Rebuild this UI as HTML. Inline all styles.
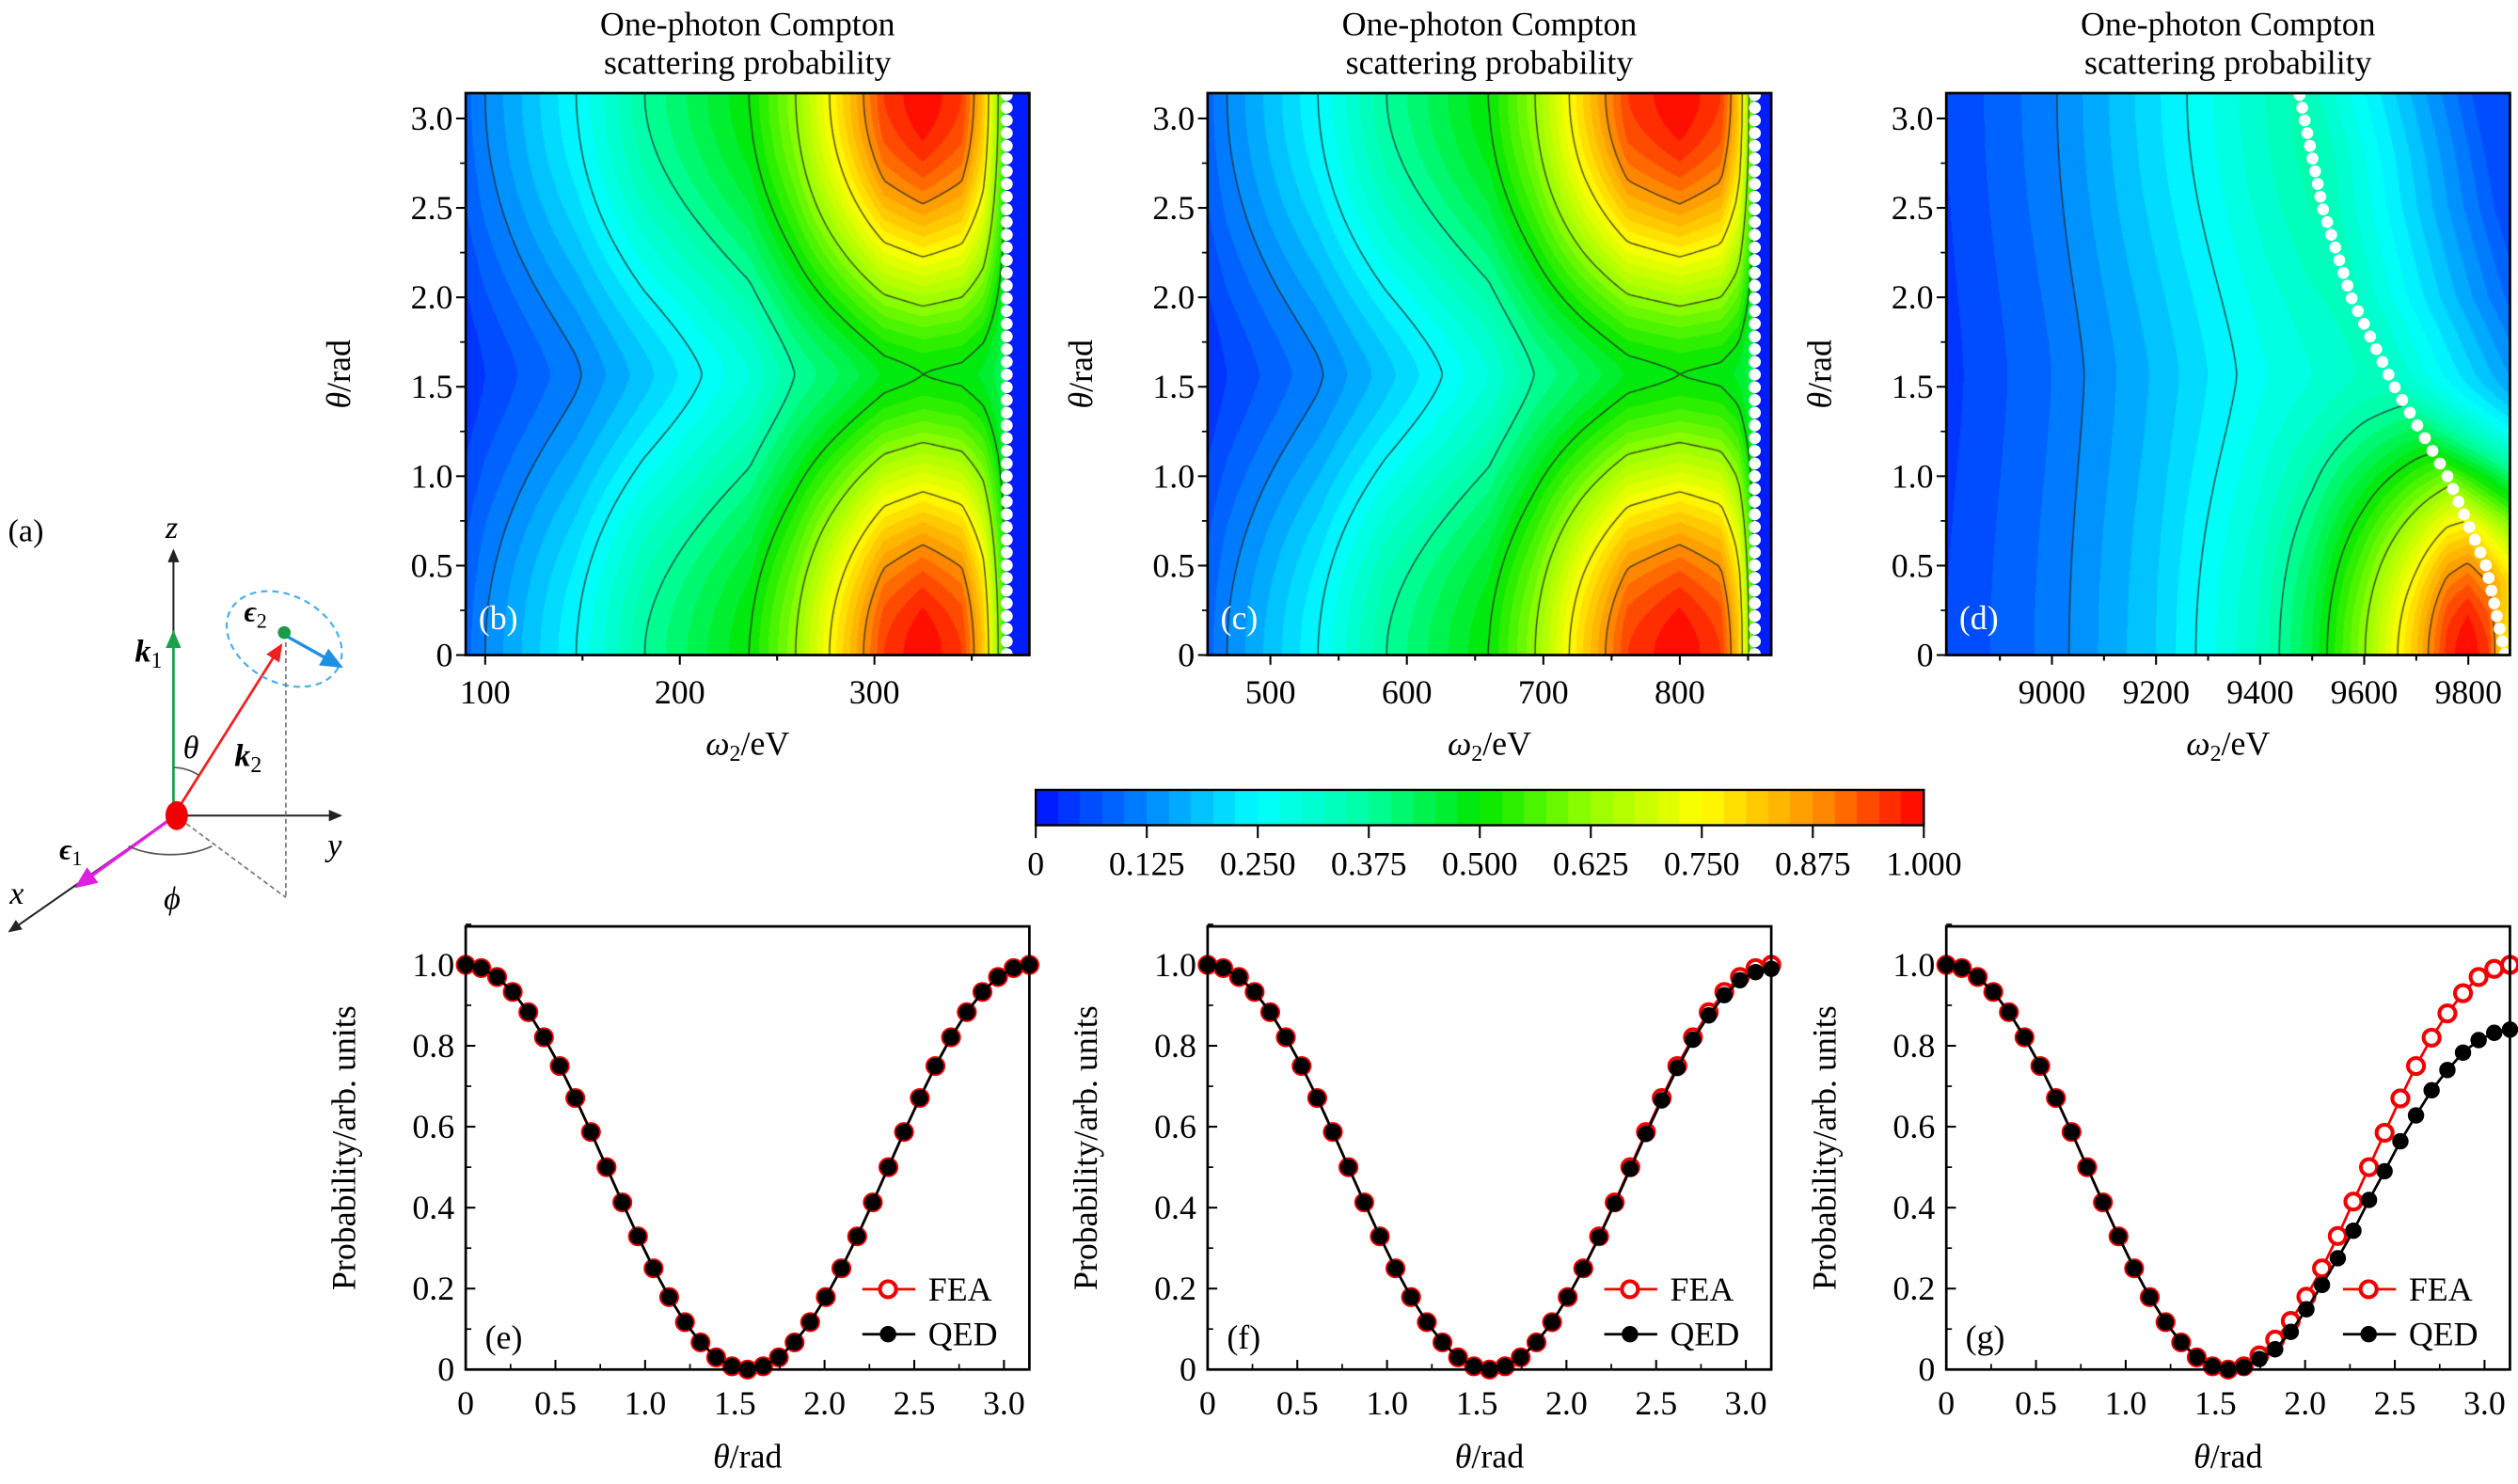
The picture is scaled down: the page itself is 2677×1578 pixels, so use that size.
<!DOCTYPE html>
<html><head><meta charset="utf-8">
<style>
html,body{margin:0;padding:0;background:#fff;}
#root{position:relative;width:2677px;height:1578px;overflow:hidden;background:#fff;}
canvas{position:absolute;}
svg{position:absolute;left:0;top:0;}
text{font-family:"Liberation Serif",serif;fill:#000;}
</style></head>
<body>
<div id="root">
<canvas id="cb"></canvas>
<canvas id="cc"></canvas>
<canvas id="cd"></canvas>
<canvas id="ccbar"></canvas>
<svg id="svg" width="2677" height="1578" viewBox="0 0 1568 924.3">
<g id="diagram">
 <defs>
  <marker id="ah" markerWidth="8" markerHeight="8" refX="6" refY="3" orient="auto"><path d="M0,0 L7,3 L0,6 z" fill="#222"/></marker>
  <marker id="ahg" markerWidth="8" markerHeight="8" refX="6" refY="3" orient="auto"><path d="M0,0 L7,3 L0,6 z" fill="#1aa24a"/></marker>
  <marker id="ahr" markerWidth="8" markerHeight="8" refX="6" refY="3" orient="auto"><path d="M0,0 L7,3 L0,6 z" fill="#f02020"/></marker>
  <marker id="ahb" markerWidth="8" markerHeight="8" refX="6" refY="3" orient="auto"><path d="M0,0 L7,3 L0,6 z" fill="#1e90e0"/></marker>
  <marker id="ahm" markerWidth="8" markerHeight="8" refX="6" refY="3" orient="auto"><path d="M0,0 L7,3 L0,6 z" fill="#e020e0"/></marker>
 </defs>
 <text x="5" y="337" font-size="20">(a)</text>
 <line x1="108" y1="508" x2="108" y2="343" stroke="#222" stroke-width="1.2" marker-end="url(#ah)"/>
 <line x1="110" y1="508" x2="212" y2="508" stroke="#222" stroke-width="1.2" marker-end="url(#ah)"/>
 <line x1="105" y1="511" x2="6" y2="580" stroke="#222" stroke-width="1.2" marker-end="url(#ah)"/>
 <line x1="105" y1="511" x2="48" y2="552" stroke="#e020e0" stroke-width="2" marker-end="url(#ahm)"/>
 <line x1="108" y1="505" x2="108" y2="394" stroke="#1aa24a" stroke-width="1.6" marker-end="url(#ahg)"/>
 <line x1="112" y1="502" x2="175" y2="402" stroke="#f02020" stroke-width="1.6" marker-end="url(#ahr)"/>
 <ellipse cx="177" cy="398" rx="38" ry="27" transform="rotate(28 177 398)" fill="none" stroke="#4ab0e8" stroke-width="1.3" stroke-dasharray="4,3"/>
 <line x1="178" y1="396" x2="212" y2="415" stroke="#1e90e0" stroke-width="2" marker-end="url(#ahb)"/>
 <circle cx="177" cy="394" r="4" fill="#1a9a4a"/>
 <line x1="178" y1="400" x2="178" y2="559" stroke="#777" stroke-width="1" stroke-dasharray="3,2"/>
 <line x1="112" y1="510" x2="178" y2="559" stroke="#777" stroke-width="1" stroke-dasharray="3,2"/>
 <path d="M108,478 A30,30 0 0 1 124,483" fill="none" stroke="#555" stroke-width="1"/>
 <path d="M80,527 A40,22 0 0 0 132,527" fill="none" stroke="#555" stroke-width="1"/>
 <ellipse cx="110" cy="508" rx="7" ry="9" fill="#f00000"/>
 <text x="103" y="335" font-size="20" font-style="italic">z</text>
 <text x="84" y="412" font-size="20" font-weight="bold" font-style="italic">k<tspan font-size="14" font-weight="normal" font-style="normal" dy="4">1</tspan></text>
 <text x="114" y="472" font-size="20" font-style="italic">θ</text>
 <text x="146" y="477" font-size="20" font-weight="bold" font-style="italic">k<tspan font-size="14" font-weight="normal" font-style="normal" dy="4">2</tspan></text>
 <text x="152" y="387" font-size="18" font-weight="bold" font-style="italic">ϵ<tspan font-size="13" font-weight="normal" font-style="normal" dy="4">2</tspan></text>
 <text x="204" y="533" font-size="20" font-style="italic">y</text>
 <text x="37" y="535" font-size="18" font-weight="bold" font-style="italic">ϵ<tspan font-size="13" font-weight="normal" font-style="normal" dy="4">1</tspan></text>
 <text x="6" y="563" font-size="20" font-style="italic">x</text>
 <text x="102" y="566" font-size="20" font-style="italic">ϕ</text>
</g>
</svg>
</div>
<script>
// ---------- DATA ----------
const omegaB = [90,100,147,182,236,259,284,305,325,345,356,364,368];
const probB_theta0 = [0.09,0.125,0.25,0.375,0.5,0.62,0.8,0.95,1.0,0.95,0.82,0.62,0.5];
const probB_thetaMid = [0.03,0.05,0.12,0.19,0.3,0.375,0.43,0.48,0.5,0.49,0.47,0.44,0.42];
const cutoffB_theta = [0,3.1416];
const cutoffB_omega = [368,368];

const omegaC = [454,468,535,585,660,693,729,762,800,830,843,851,855];
const probC_theta0 = [0.09,0.125,0.25,0.375,0.5,0.62,0.8,0.95,1.0,0.95,0.82,0.62,0.5];
const probC_thetaMid = [0.03,0.05,0.12,0.19,0.3,0.375,0.43,0.48,0.5,0.49,0.47,0.44,0.42];
const cutoffC_theta = [0,3.1416];
const cutoffC_omega = [855,855];

const omegaD = [8797,9000,9200,9400,9500,9600,9700,9760,9800,9840,9871];
const probD_theta0 = [0.05,0.11,0.2,0.33,0.45,0.62,0.82,0.96,1.0,0.95,0.75];
const probD_thetaMid = [0.04,0.1,0.18,0.27,0.3,0.33,0.34,0.32,0.3,0.26,0.22];
const probD_thetaPi = [0.05,0.12,0.22,0.32,0.37,0.38,0.38,0.37,0.35,0.3,0.25];
const cutoffD_theta = [0,0.5,1.0,1.5,2.0,2.5,3.1416];
const cutoffD_omega = [9871,9834,9760,9658,9575,9520,9475];

const contourLevels = [0.125,0.25,0.375,0.5,0.625,0.75,0.875];
const colorbarTicks = ["0","0.125","0.250","0.375","0.500","0.625","0.750","0.875","1.000"];

const thetaPts = [0,0.087,0.175,0.262,0.349,0.436,0.524,0.611,0.698,0.785,0.873,0.960,1.047,1.134,1.222,1.309,1.396,1.484,1.571,1.658,1.745,1.833,1.920,2.007,2.094,2.182,2.269,2.356,2.443,2.531,2.618,2.705,2.793,2.880,2.967,3.054,3.142];
const feaE = [1,.992,.970,.933,.883,.821,.750,.671,.587,.500,.413,.329,.250,.179,.117,.067,.030,.008,0,.008,.030,.067,.117,.179,.250,.329,.413,.500,.587,.671,.750,.821,.883,.933,.970,.992,1];
const qedE = [1,.992,.970,.933,.883,.821,.750,.671,.587,.500,.413,.329,.250,.179,.117,.067,.030,.008,0,.008,.030,.067,.117,.179,.250,.329,.413,.500,.587,.671,.750,.821,.883,.933,.970,.992,1];
const feaF = [1,.992,.970,.933,.883,.821,.750,.671,.587,.500,.413,.329,.250,.179,.117,.067,.030,.008,0,.008,.030,.067,.117,.179,.250,.329,.413,.500,.587,.671,.750,.821,.883,.933,.970,.992,1];
const qedF = [1,.992,.970,.933,.883,.821,.750,.671,.587,.500,.413,.329,.250,.179,.117,.067,.030,.008,0,.008,.030,.067,.117,.179,.249,.327,.410,.496,.582,.665,.745,.815,.875,.925,.962,.982,.99];
const feaG = [1,.992,.970,.933,.883,.821,.750,.671,.587,.500,.413,.329,.250,.179,.117,.067,.030,.008,0,.008,.035,.074,.12,.18,.25,.33,.415,.50,.585,.67,.75,.82,.88,.93,.97,.99,1];
const qedG = [1,.992,.970,.933,.883,.821,.750,.671,.587,.500,.413,.329,.250,.179,.117,.067,.030,.008,0,.006,.026,.05,.093,.149,.209,.275,.343,.419,.49,.564,.628,.69,.74,.783,.814,.832,.84];
const xTicksHeatB = [100,200,300];
const xTicksHeatC = [500,600,700,800];
const xTicksHeatD = [9000,9200,9400,9600,9800];
const thetaTicks = [0,0.5,1.0,1.5,2.0,2.5,3.0];
const probTicks = [0,0.2,0.4,0.6,0.8,1.0];

// ---------- LAYOUT ----------
const S = 2677/1568;
const FS = 21;
const NS = "http://www.w3.org/2000/svg";
const svg = document.getElementById('svg');
function mk(tag, attrs, parent){ const e=document.createElementNS(NS,tag); for(const k in attrs) e.setAttribute(k,attrs[k]); (parent||svg).appendChild(e); return e; }
function interp(xs, ys, x){
  if(x<=xs[0]) return ys[0];
  for(let i=1;i<xs.length;i++){ if(x<=xs[i]){ const t=(x-xs[i-1])/(xs[i]-xs[i-1]); return ys[i-1]+t*(ys[i]-ys[i-1]); } }
  return ys[ys.length-1];
}
const stops=[[0,[0,16,255]],[0.125,[0,135,255]],[0.25,[0,255,255]],[0.375,[0,255,160]],[0.5,[0,232,0]],[0.625,[150,255,0]],[0.75,[255,255,0]],[0.875,[255,150,0]],[1,[255,0,0]]];
function cmap(v){
  v=Math.max(0,Math.min(0.9999,v)); v=(Math.floor(v*40)+0.5)/40;
  for(let i=1;i<stops.length;i++){ if(v<=stops[i][0]){ const a=stops[i-1],b=stops[i]; const t=(v-a[0])/(b[0]-a[0]); return [0,1,2].map(k=>Math.round(a[1][k]+t*(b[1][k]-a[1][k]))); } }
  return [255,0,0];
}

const heatPanels = [
 {id:'cb',key:'b',x:290,y:58,w:351,h:350,xmin:90,xmax:379.6,om:omegaB,p0:probB_theta0,pm:probB_thetaMid,pp:probB_theta0,ct:cutoffB_theta,co:cutoffB_omega,ticks:xTicksHeatB,fade:false},
 {id:'cc',key:'c',x:752,y:58,w:351,h:350,xmin:454,xmax:867,om:omegaC,p0:probC_theta0,pm:probC_thetaMid,pp:probC_theta0,ct:cutoffC_theta,co:cutoffC_omega,ticks:xTicksHeatC,fade:false},
 {id:'cd',key:'d',x:1212,y:58,w:351,h:350,xmin:8797,xmax:9880,om:omegaD,p0:probD_theta0,pm:probD_thetaMid,pp:probD_thetaPi,ct:cutoffD_theta,co:cutoffD_omega,ticks:xTicksHeatD,fade:true}
];
function probAt(P, om, th){
  const cut = interp(P.ct, P.co, th);
  const w = Math.pow(Math.abs(Math.cos(th)),1.4);
  function inside(o){ const pm=interp(P.om,P.pm,o); const pe = th<Math.PI/2 ? interp(P.om,P.p0,o) : interp(P.om,P.pp,o); return pe*w+pm*(1-w); }
  if(om<=cut) return {v:inside(om),out:false};
  if(!P.fade) return {v:0.02,out:true};
  const pc = inside(cut);
  return {v:Math.max(0.07, pc*(1-(om-cut)/420)),out:true};
}
heatPanels.forEach(P=>{
  const cv=document.getElementById(P.id);
  const W=Math.round(P.w*S), H=Math.round(P.h*S);
  cv.width=W; cv.height=H;
  cv.style.left=(P.x*S)+'px'; cv.style.top=(P.y*S)+'px'; cv.style.width=W+'px'; cv.style.height=H+'px';
  const ctx=cv.getContext('2d'); const img=ctx.createImageData(W,H);
  for(let py=0;py<H;py++){ const th=Math.PI*(1-(py+0.5)/H);
    for(let px=0;px<W;px++){ const om=P.xmin+(px+0.5)/W*(P.xmax-P.xmin);
      const c=cmap(probAt(P,om,th).v); const i=(py*W+px)*4; img.data[i]=c[0];img.data[i+1]=c[1];img.data[i+2]=c[2];img.data[i+3]=255; } }
  ctx.putImageData(img,0,0);
  const nx=160, ny=160; const g=[], o=[];
  for(let j=0;j<=ny;j++){ g.push([]);o.push([]); const th=Math.PI*(1-j/ny);
    for(let i=0;i<=nx;i++){ const r=probAt(P,P.xmin+i/nx*(P.xmax-P.xmin),th); g[j].push(r.v); o[j].push(r.out);} }
  ctx.strokeStyle='rgba(40,40,40,0.85)'; ctx.lineWidth=1.4;
  const sx=W/nx, sy=H/ny;
  contourLevels.forEach(L=>{
    ctx.beginPath();
    for(let j=0;j<ny;j++) for(let i=0;i<nx;i++){
      if(o[j][i]||o[j][i+1]||o[j+1][i]||o[j+1][i+1]) continue;
      const a=g[j][i],b=g[j][i+1],c=g[j+1][i+1],d=g[j+1][i];
      const pts=[];
      function e(v1,v2,x1,y1,x2,y2){ if((v1-L)*(v2-L)<0){ const t=(L-v1)/(v2-v1); pts.push([(x1+t*(x2-x1))*sx,(y1+t*(y2-y1))*sy]); } }
      e(a,b,i,j,i+1,j); e(b,c,i+1,j,i+1,j+1); e(c,d,i+1,j+1,i,j+1); e(d,a,i,j+1,i,j);
      if(pts.length>=2){ ctx.moveTo(pts[0][0],pts[0][1]); ctx.lineTo(pts[1][0],pts[1][1]); }
      if(pts.length===4){ ctx.moveTo(pts[2][0],pts[2][1]); ctx.lineTo(pts[3][0],pts[3][1]); }
    }
    ctx.stroke();
  });
});
(function(){
  const cv=document.getElementById('ccbar'); const x=645,y=492,w=553,h=22;
  const W=Math.round(w*S),H=Math.round(h*S); cv.width=W;cv.height=H;
  cv.style.left=(x*S)+'px'; cv.style.top=(y*S)+'px'; cv.style.width=W+'px'; cv.style.height=H+'px';
  const ctx=cv.getContext('2d');
  for(let px=0;px<W;px++){ const c=cmap((px+0.5)/W); ctx.fillStyle=`rgb(${c[0]},${c[1]},${c[2]})`; ctx.fillRect(px,0,1,H); }
  const fr=mk('rect',{x:x,y:y,width:w,height:h,fill:'none',stroke:'#000','stroke-width':1.4});
  
  
  colorbarTicks.forEach((t,k)=>{
    const tx=x+w*k/(colorbarTicks.length-1);
    const tl=mk('line',{x1:tx,y1:y+h,x2:tx,y2:y+h+8,stroke:'#000','stroke-width':1.2});
    
    
    const tt=mk('text',{x:tx,y:y+h+31,'font-size':FS,'text-anchor':'middle'}); tt.textContent=t;
    
    
  });
})();

heatPanels.forEach(P=>{
  const g=mk('g',{});
  
  
  const X=v=>P.x+(v-P.xmin)/(P.xmax-P.xmin)*P.w;
  const Y=t=>P.y+P.h-t/Math.PI*P.h;
  for(let k=0;k<=44;k++){ const th=Math.PI*k/44*0.995+0.005; const om=interp(P.ct,P.co,th);
    const c=mk('circle',{cx:X(om),cy:Y(th),r:3.7,fill:'#fff'},g);
    
     }
  const fr=mk('rect',{x:P.x,y:P.y,width:P.w,height:P.h,fill:'none',stroke:'#000','stroke-width':1.6},g);
  
  
  thetaTicks.forEach(t=>{ const ty=Y(t);
    const l=mk('line',{x1:P.x-6,y1:ty,x2:P.x,y2:ty,stroke:'#000','stroke-width':1.2},g);
     
    const tx=mk('text',{x:P.x-8,y:ty+7,'font-size':FS,'text-anchor':'end'},g); tx.textContent=t===0?'0':t.toFixed(1);
     
    if(t<3){ const m=mk('line',{x1:P.x-3.5,y1:Y(t+0.25),x2:P.x,y2:Y(t+0.25),stroke:'#000','stroke-width':1},g);
        }
  });
  const step=P.ticks[1]-P.ticks[0];
  for(let v=P.ticks[0]-step/2; v<P.xmax; v+=step/2){ if(v<P.xmin) continue;
    const major=P.ticks.some(t=>Math.abs(t-v)<1e-6);
    const l=mk('line',{x1:X(v),y1:P.y+P.h,x2:X(v),y2:P.y+P.h+(major?6:3.5),stroke:'#000','stroke-width':1.2},g);
      }
  P.ticks.forEach(v=>{ const tx=mk('text',{x:X(v),y:P.y+P.h+30,'font-size':FS,'text-anchor':'middle'},g); tx.textContent=v;
      });
  const cx=P.x+P.w/2;
  const t1=mk('text',{x:cx,y:P.y-36,'font-size':FS,'text-anchor':'middle'},g); t1.textContent='One-photon Compton';
   
  const t2=mk('text',{x:cx,y:P.y-12,'font-size':FS,'text-anchor':'middle'},g); t2.textContent='scattering probability';
   
  const xl=mk('text',{x:cx,y:P.y+P.h+62,'font-size':FS,'text-anchor':'middle'},g);
  xl.innerHTML='<tspan font-style="italic">ω</tspan><tspan font-size="14" dy="4">2</tspan><tspan dy="-4">/eV</tspan>';
   
  const yl=mk('text',{x:0,y:0,'font-size':FS,'text-anchor':'middle',transform:`translate(${P.x-72},${P.y+P.h/2}) rotate(-90)`},g);
  yl.innerHTML='<tspan font-style="italic">θ</tspan>/rad';
   
  const pl=mk('text',{x:P.x+8,y:P.y+P.h-16,'font-size':FS,fill:'#fff'},g); pl.textContent='('+P.key+')';
  pl.style.fill='#fff';
   
});

const linePanels=[{key:'e',x:290,fea:feaE,qed:qedE},{key:'f',x:752,fea:feaF,qed:qedF},{key:'g',x:1212,fea:feaG,qed:qedG}];
linePanels.forEach(P=>{
  const y0=577,w=351,h=276,ymax=1.095;
  const g=mk('g',{});
  
  
  const X=t=>P.x+t/Math.PI*w, Y=v=>y0+h-v/ymax*h;
  function series(vals,color,open,name){
    const d=thetaPts.map((t,i)=>(i?'L':'M')+X(t).toFixed(2)+','+Y(vals[i]).toFixed(2)).join(' ');
    const ln=mk('path',{d:d,fill:'none',stroke:color,'stroke-width':1.6},g);
     
    thetaPts.forEach((t,i)=>{ const c=mk('circle',{cx:X(t),cy:Y(vals[i]),r:open?5:4.6,fill:open?'#fff':'#000',stroke:color,'stroke-width':open?2.4:1},g);
        });
  }
  series(P.fea,'#f00000',true,'fea');
  series(P.qed,'#000',false,'qed');
  const fr=mk('rect',{x:P.x,y:y0,width:w,height:h,fill:'none',stroke:'#000','stroke-width':1.6},g);
   
  probTicks.forEach(v=>{ const l=mk('line',{x1:P.x,y1:Y(v),x2:P.x+6,y2:Y(v),stroke:'#000','stroke-width':1.2},g);
     
    const m=mk('line',{x1:P.x,y1:Y(v+0.1),x2:P.x+3.5,y2:Y(v+0.1),stroke:'#000','stroke-width':1},g);
     
    const tx=mk('text',{x:P.x-7,y:Y(v)+7,'font-size':FS,'text-anchor':'end'},g); tx.textContent=v===0?'0':v.toFixed(1);
      });
  thetaTicks.forEach(t=>{ const l=mk('line',{x1:X(t),y1:y0+h,x2:X(t),y2:y0+h-6,stroke:'#000','stroke-width':1.2},g);
     
    if(t<3){ const m=mk('line',{x1:X(t+0.25),y1:y0+h,x2:X(t+0.25),y2:y0+h-3.5,stroke:'#000','stroke-width':1},g);
      }
    const tx=mk('text',{x:X(t),y:y0+h+28,'font-size':FS,'text-anchor':'middle'},g); tx.textContent=t===0?'0':t.toFixed(1);
      });
  const xl=mk('text',{x:P.x+w/2,y:y0+h+61,'font-size':FS,'text-anchor':'middle'},g);
  xl.innerHTML='<tspan font-style="italic">θ</tspan>/rad';
   
  const yl=mk('text',{x:0,y:0,'font-size':FS,'text-anchor':'middle',transform:`translate(${P.x-69},${y0+h/2}) rotate(-90)`},g);
  yl.textContent='Probability/arb. units';
   
  const pl=mk('text',{x:P.x+12,y:y0+h-13,'font-size':FS},g); pl.textContent='('+P.key+')';
   
  [['FEA','#f00000',true,226],['QED','#000',false,254]].forEach(L=>{
    const lg=mk('g',{},g);
    
    
    mk('line',{x1:P.x+247,y1:y0+L[3],x2:P.x+280,y2:y0+L[3],stroke:L[1],'stroke-width':1.6},lg);
    mk('circle',{cx:P.x+263,cy:y0+L[3],r:L[2]?5:4.6,fill:L[2]?'#fff':'#000',stroke:L[1],'stroke-width':L[2]?2.4:1},lg);
    const t=mk('text',{x:P.x+288,y:y0+L[3]+7,'font-size':FS},lg); t.textContent=L[0];
  });
});
</script>
</body></html>
